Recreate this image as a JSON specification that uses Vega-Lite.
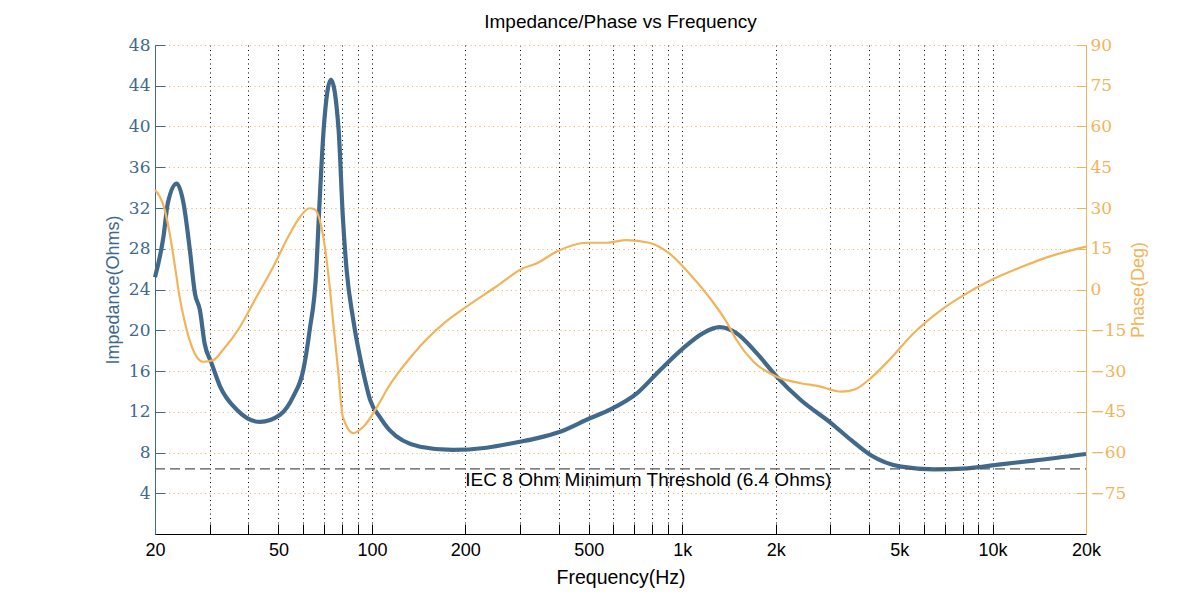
{
  "$schema": "https://vega.github.io/schema/vega-lite/v6.json",
  "width": 931,
  "height": 489,
  "autosize": {"type": "none"},
  "padding": {"left": 155, "top": 45, "right": 114, "bottom": 67},
  "background": "white",
  "title": {"text": "Impedance/Phase vs Frequency", "fontSize": 19, "font": "Liberation Sans", "fontWeight": "normal", "color": "black", "offset": 4, "anchor": "middle"},
  "config": {"view": {"stroke": null}},
  "datasets": {
    "imp": [
      {"f": 20, "z": 25.2}, {"f": 21.3, "z": 29.2}, {"f": 22.0, "z": 32.5}, {"f": 23.5, "z": 34.4},
      {"f": 24.7, "z": 32.5}, {"f": 25.9, "z": 27.9}, {"f": 26.9, "z": 23.6}, {"f": 27.9, "z": 22.0},
      {"f": 28.9, "z": 18.7}, {"f": 30.4, "z": 16.8}, {"f": 32.4, "z": 14.5}, {"f": 36.7, "z": 12.2},
      {"f": 43.6, "z": 11.0}, {"f": 50.6, "z": 11.7}, {"f": 55.8, "z": 13.5}, {"f": 60.1, "z": 16.1},
      {"f": 63.0, "z": 20.0}, {"f": 66.2, "z": 25.9}, {"f": 67.3, "z": 30.5}, {"f": 69.9, "z": 39.7},
      {"f": 73.8, "z": 44.6}, {"f": 78.1, "z": 39.7}, {"f": 80.6, "z": 31.1}, {"f": 82.9, "z": 25.9},
      {"f": 87.1, "z": 21.0}, {"f": 93.9, "z": 15.8}, {"f": 98.6, "z": 13.2}, {"f": 106, "z": 11.5},
      {"f": 114, "z": 10.2}, {"f": 143, "z": 8.57}, {"f": 182, "z": 8.25}, {"f": 234, "z": 8.47},
      {"f": 300, "z": 9.06}, {"f": 339, "z": 9.39}, {"f": 404, "z": 10.04}, {"f": 504, "z": 11.36},
      {"f": 585, "z": 12.2}, {"f": 714, "z": 13.8}, {"f": 849, "z": 16.1}, {"f": 1004, "z": 18.2},
      {"f": 1164, "z": 19.7}, {"f": 1319, "z": 20.3}, {"f": 1496, "z": 19.7}, {"f": 1743, "z": 17.7},
      {"f": 2015, "z": 15.45}, {"f": 2409, "z": 13.15}, {"f": 3023, "z": 10.87}, {"f": 3497, "z": 9.23},
      {"f": 4042, "z": 7.75}, {"f": 5070, "z": 6.61}, {"f": 6496, "z": 6.35}, {"f": 8317, "z": 6.45},
      {"f": 10600, "z": 6.84}, {"f": 13570, "z": 7.2}, {"f": 20000, "z": 7.85}
    ],
    "phase": [
      {"f": 20, "p": 36.6}, {"f": 21.5, "p": 29.3}, {"f": 22.4, "p": 19.4}, {"f": 23.2, "p": 8.4},
      {"f": 24.0, "p": -2.7}, {"f": 25.0, "p": -12.4}, {"f": 26.3, "p": -21.1}, {"f": 28.6, "p": -26.6},
      {"f": 30.8, "p": -26.0}, {"f": 33.1, "p": -22.3}, {"f": 37.6, "p": -13.7}, {"f": 42.5, "p": -2.7},
      {"f": 48.1, "p": 8.4}, {"f": 54.5, "p": 20.7}, {"f": 58.7, "p": 26.8}, {"f": 63.0, "p": 29.9},
      {"f": 65.3, "p": 29.5}, {"f": 67.9, "p": 25.6}, {"f": 70.5, "p": 15.8}, {"f": 73.1, "p": 1.0},
      {"f": 74.9, "p": -11.2}, {"f": 77.8, "p": -29.6}, {"f": 80.6, "p": -46.8}, {"f": 87.2, "p": -52.9},
      {"f": 93.9, "p": -50.5}, {"f": 106, "p": -41.5}, {"f": 111.5, "p": -37.0}, {"f": 136.5, "p": -23.5},
      {"f": 170.8, "p": -12.4}, {"f": 202, "p": -6.3}, {"f": 251, "p": 1.0}, {"f": 307, "p": 7.8},
      {"f": 339, "p": 9.6}, {"f": 393, "p": 13.9}, {"f": 494, "p": 17.2}, {"f": 571, "p": 17.2},
      {"f": 661, "p": 18.2}, {"f": 782, "p": 17.2}, {"f": 908, "p": 13.3}, {"f": 1052, "p": 6.0},
      {"f": 1219, "p": -2.7}, {"f": 1397, "p": -12.4}, {"f": 1496, "p": -18.6}, {"f": 1697, "p": -26.6},
      {"f": 2015, "p": -32.1}, {"f": 2409, "p": -34.5}, {"f": 2730, "p": -35.5}, {"f": 3263, "p": -37.6},
      {"f": 3610, "p": -36.7}, {"f": 4042, "p": -32.7}, {"f": 4701, "p": -25.3}, {"f": 5563, "p": -16.1},
      {"f": 6496, "p": -9.4}, {"f": 7897, "p": -2.7}, {"f": 9899, "p": 3.5}, {"f": 12100, "p": 7.8},
      {"f": 15200, "p": 12.1}, {"f": 20000, "p": 15.8}
    ],
    "thrline": [{"f": 20, "z": 6.4}, {"f": 20000, "z": 6.4}],
    "thrlabel": [{"f": 200, "z": 6.4, "label": "IEC 8 Ohm Minimum Threshold (6.4 Ohms)"}]
  },
  "encoding": {
    "x": {
      "field": "f", "type": "quantitative",
      "scale": {"type": "log", "domain": [20, 20000], "nice": false},
      "axis": {
        "orient": "bottom",
        "title": "Frequency(Hz)",
        "values": [20, 30, 40, 50, 60, 70, 80, 90, 100, 200, 300, 400, 500, 600, 700, 800, 900, 1000, 2000, 3000, 4000, 5000, 6000, 7000, 8000, 9000, 10000, 20000],
        "labelExpr": "indexof([20,50,100,200,500], datum.value) >= 0 ? '' + datum.value : (indexof([1000,2000,5000,10000,20000], datum.value) >= 0 ? (datum.value / 1000) + 'k' : '')",
        "labelFlush": false,
        "labelOverlap": false,
        "labelFont": "Liberation Sans", "labelFontSize": 18, "labelColor": "black",
        "labelPadding": 17,
        "tickSize": -10, "tickColor": "black", "tickWidth": 1,
        "domainColor": "black", "domainWidth": 1,
        "grid": true, "gridColor": "black", "gridDash": [1, 3.5], "gridWidth": 1, "gridOpacity": 1,
        "titleFont": "Liberation Sans", "titleFontSize": 19.5, "titleFontWeight": "normal", "titleColor": "black", "titlePadding": 9
      }
    }
  },
  "layer": [
    {
      "encoding": {
        "y": {
          "field": "z", "type": "quantitative",
          "scale": {"domain": [0, 48], "nice": false, "zero": false},
          "axis": {
            "orient": "left",
            "title": "Impedance(Ohms)",
            "values": [4, 8, 12, 16, 20, 24, 28, 32, 36, 40, 44, 48],
            "labelFont": "DejaVu Serif", "labelFontSize": 17, "labelColor": "#41698c",
            "labelPadding": 15,
            "tickSize": -10, "tickColor": "#41698c", "tickWidth": 1,
            "domainColor": "#41698c", "domainWidth": 1,
            "grid": true, "gridColor": "#f2b45a", "gridDash": [1, 3.5], "gridWidth": 1, "gridOpacity": 1,
            "titleFont": "Liberation Sans", "titleFontSize": 18, "titleFontWeight": "normal", "titleColor": "#41698c", "titlePadding": 6
          }
        }
      },
      "layer": [
        {
          "data": {"name": "imp"},
          "mark": {"type": "line", "color": "#41698c", "strokeWidth": 4.2, "interpolate": "monotone"}
        },
        {
          "data": {"name": "thrline"},
          "mark": {"type": "line", "color": "#555555", "strokeDash": [10, 5], "strokeWidth": 1.2}
        },
        {
          "data": {"name": "thrlabel"},
          "mark": {"type": "text", "align": "left", "baseline": "middle", "dy": 11, "font": "Liberation Sans", "fontSize": 19, "color": "black"},
          "encoding": {"text": {"field": "label"}}
        }
      ]
    },
    {
      "data": {"name": "phase"},
      "mark": {"type": "line", "color": "#f2b45a", "strokeWidth": 2.2, "interpolate": "monotone"},
      "encoding": {
        "y": {
          "field": "p", "type": "quantitative",
          "scale": {"domain": [-90, 90], "nice": false, "zero": false},
          "axis": {
            "orient": "right",
            "title": "Phase(Deg)",
            "titleAngle": 270,
            "values": [-75, -60, -45, -30, -15, 0, 15, 30, 45, 60, 75, 90],
            "labelFont": "DejaVu Serif", "labelFontSize": 17, "labelColor": "#f2b45a",
            "labelPadding": 14,
            "tickSize": -10, "tickColor": "#f2b45a", "tickWidth": 1,
            "domainColor": "#f2b45a", "domainWidth": 1,
            "grid": false,
            "titleFont": "Liberation Sans", "titleFontSize": 18, "titleFontWeight": "normal", "titleColor": "#f2b45a", "titlePadding": 22
          }
        }
      }
    }
  ],
  "resolve": {"scale": {"y": "independent"}}
}
